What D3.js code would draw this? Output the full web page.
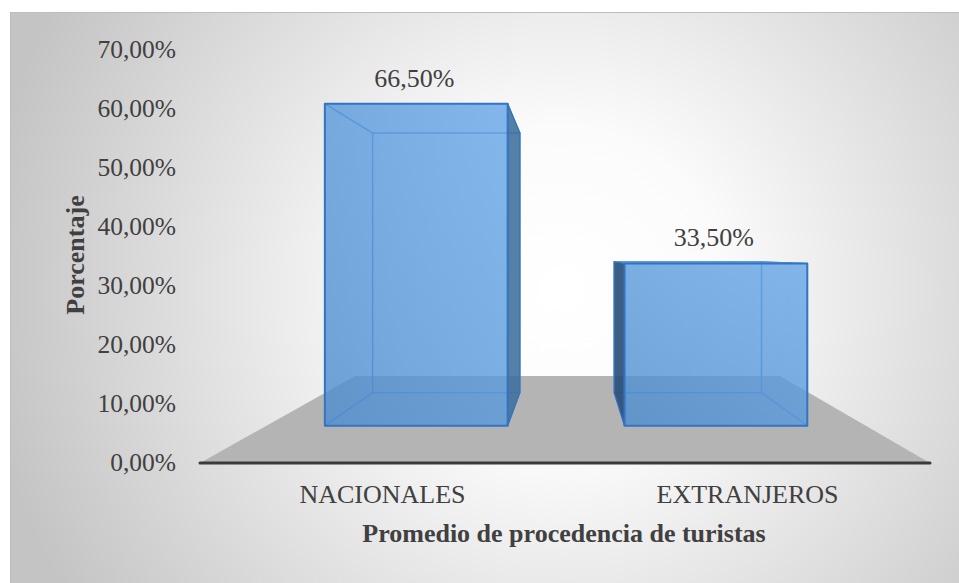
<!DOCTYPE html>
<html>
<head>
<meta charset="utf-8">
<script src="https://cdn.jsdelivr.net/npm/d3@7"></script>
<style>
  html, body { margin: 0; padding: 0; background: #ffffff; }
  svg { display: block; }
  text { font-family: "Liberation Serif", "Times New Roman", serif; fill: #404040; }
</style>
</head>
<body>
<svg id="chart" width="959" height="583"></svg>
<script>
// Tourist origin shares
const categories = ["NACIONALES", "EXTRANJEROS"];
const values = [66.5, 33.5];
const valueLabels = ["66,50%", "33,50%"];
const yTicks = [0, 10, 20, 30, 40, 50, 60, 70];
const yTitle = "Porcentaje";
const xTitle = "Promedio de procedencia de turistas";

const W = 959, H = 583;
const svg = d3.select("#chart");
const defs = svg.append("defs");

// Background: radial grey-to-white fill inside a thin frame
const bg = defs.append("radialGradient").attr("id", "bgGrad")
  .attr("gradientUnits", "userSpaceOnUse")
  .attr("cx", 560).attr("cy", 290).attr("r", 580);
bg.append("stop").attr("offset", 0).attr("stop-color", "#ffffff");
bg.append("stop").attr("offset", 0.28).attr("stop-color", "#fbfbfb");
bg.append("stop").attr("offset", 1).attr("stop-color", "#c4c4c4");

svg.append("rect")
  .attr("x", 10.5).attr("y", 12.5)
  .attr("width", W).attr("height", H)
  .attr("fill", "url(#bgGrad)")
  .attr("stroke", "#bdbdbd").attr("stroke-width", 1);

// Scales on the front plane of the floor
const x = d3.scaleBand().domain(categories).range([200, 930])
  .paddingInner(0.39).paddingOuter(0.195);
const y = d3.scaleLinear().domain([0, 70]).range([463, 50]);

// Simple one-point perspective: depth 1 = front edge of the floor
const vp = [571, 255];
const depth = { floorFront: 1, floorBack: 1.718, barFront: 1.218, barBack: 1.511 };
function project(X, v, d) {
  const yf = y(v);
  return [vp[0] + (X - vp[0]) / d, vp[1] + (yf - vp[1]) / d];
}
const poly = pts => "M" + pts.map(p => p.join(",")).join("L") + "Z";

// Floor
svg.append("path")
  .attr("d", poly([
    project(x.range()[0], 0, depth.floorFront),
    project(x.range()[1], 0, depth.floorFront),
    project(x.range()[1], 0, depth.floorBack),
    project(x.range()[0], 0, depth.floorBack)
  ]))
  .attr("fill", "#b4b4b4");

// Front face shading
const fg = defs.append("linearGradient").attr("id", "frontGrad")
  .attr("x1", 1).attr("y1", 0).attr("x2", 0).attr("y2", 1);
fg.append("stop").attr("offset", 0).attr("stop-color", "#6aaaee");
fg.append("stop").attr("offset", 1).attr("stop-color", "#4585ca");

const faceAlpha = 0.55;
const bars = svg.append("g");

categories.forEach((c, i) => {
  const v = values[i];
  const x0 = x(c), x1 = x(c) + x.bandwidth();
  const d0 = depth.barFront, d1 = depth.barBack;
  const P = (X, val, d) => project(X, val, d);
  const g = bars.append("g");

  const faces = [
    { name: "back",   pts: [P(x0, 0, d1), P(x1, 0, d1), P(x1, v, d1), P(x0, v, d1)] },
    { name: "bottom", pts: [P(x0, 0, d0), P(x1, 0, d0), P(x1, 0, d1), P(x0, 0, d1)] },
    { name: "top",    pts: [P(x0, v, d0), P(x1, v, d0), P(x1, v, d1), P(x0, v, d1)] },
    { name: "left",   pts: [P(x0, 0, d0), P(x0, 0, d1), P(x0, v, d1), P(x0, v, d0)], outer: vp[0] < x0 },
    { name: "right",  pts: [P(x1, 0, d0), P(x1, 0, d1), P(x1, v, d1), P(x1, v, d0)], outer: vp[0] > x1 },
    { name: "front",  pts: [P(x0, 0, d0), P(x1, 0, d0), P(x1, v, d0), P(x0, v, d0)] }
  ];

  faces.forEach(f => {
    let fill = "#5b9bd5", op = faceAlpha;
    if (f.name === "front") fill = "url(#frontGrad)";
    if (f.outer) {
      fill = f.name === "left" ? "#22446a" : "#3a6892";
      op = f.name === "left" ? 0.8 : 0.75;
    }
    g.append("path")
      .attr("d", poly(f.pts))
      .attr("fill", fill)
      .attr("fill-opacity", op)
      .attr("stroke", f.name === "front" || f.outer ? "#3474c2" : "#5596da")
      .attr("stroke-width", f.name === "front" ? 2 : 1.2)
      .attr("stroke-linejoin", "round");
  });

  // Value label above the front face
  const top = P((x0 + x1) / 2, v, d0);
  svg.append("text")
    .attr("x", top[0] - 2)
    .attr("y", top[1] - 17)
    .attr("text-anchor", "middle")
    .attr("font-size", 26)
    .text(valueLabels[i]);
});

// Front edge of the floor
svg.append("line")
  .attr("x1", x.range()[0]).attr("x2", x.range()[1])
  .attr("y1", y(0)).attr("y2", y(0))
  .attr("stroke", "#3a3a3a").attr("stroke-width", 3)
  .attr("stroke-linecap", "round");

// Y axis labels
const fmt = d => d3.format(".2f")(d).replace(".", ",") + "%";
const yAxis = svg.append("g")
  .attr("transform", "translate(176,0)")
  .call(d3.axisLeft(y).tickValues(yTicks).tickFormat(fmt).tickSize(0).tickPadding(0));
yAxis.select(".domain").remove();
yAxis.selectAll("text")
  .attr("font-size", 25.5)
  .attr("fill", "#404040")
  .attr("dy", "0.28em");

// X axis category labels
const xAxis = svg.append("g")
  .attr("transform", `translate(0,${y(0)})`)
  .call(d3.axisBottom(x).tickSize(0).tickPadding(22));
xAxis.select(".domain").remove();
xAxis.selectAll("text")
  .attr("font-size", 26)
  .attr("fill", "#404040");

// Axis titles
svg.append("text")
  .attr("transform", "translate(84,255) rotate(-90)")
  .attr("text-anchor", "middle")
  .attr("font-size", 26)
  .attr("font-weight", "bold")
  .text(yTitle);

svg.append("text")
  .attr("x", 564).attr("y", 542)
  .attr("text-anchor", "middle")
  .attr("font-size", 26)
  .attr("font-weight", "bold")
  .text(xTitle);
</script>
</body>
</html>
